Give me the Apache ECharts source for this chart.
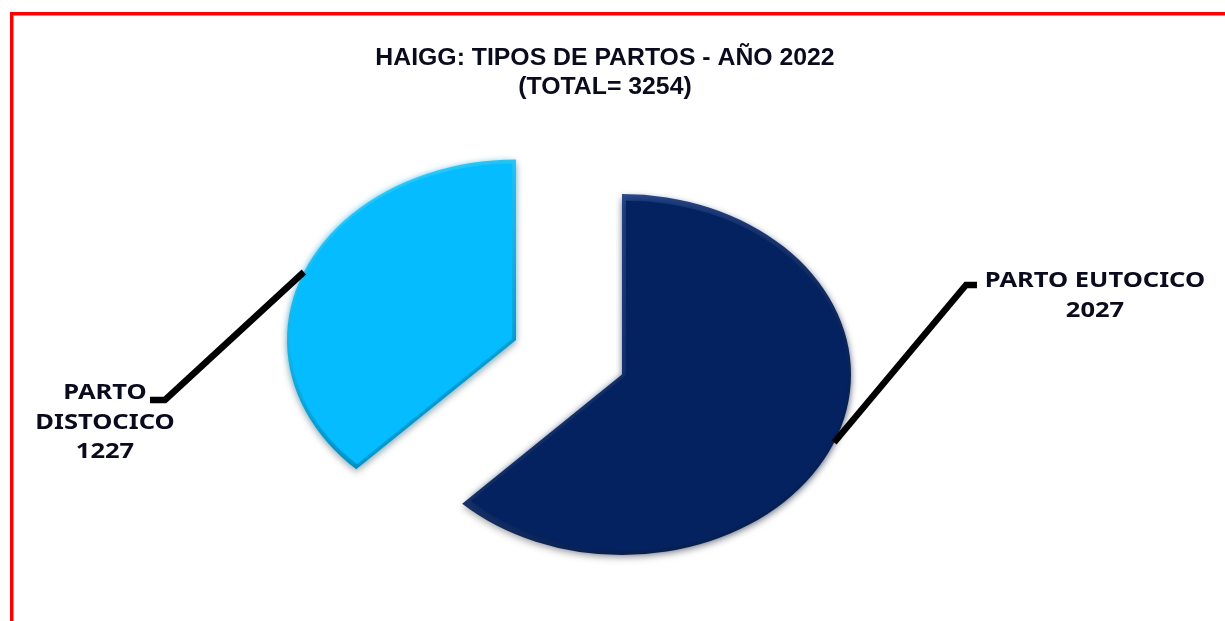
<!DOCTYPE html>
<html>
<head>
<meta charset="utf-8">
<style>
html, body { margin: 0; padding: 0; background: #fff; }
#chart { width: 1225px; height: 621px; }
</style>
<script src="https://cdn.jsdelivr.net/npm/echarts@6/dist/echarts.min.js"></script>
</head>
<body>
<div id="chart"></div>
<script>
const titleLines = ['HAIGG: TIPOS DE PARTOS - AÑO 2022', '(TOTAL= 3254)'];
const categories = ['PARTO EUTOCICO', 'PARTO\nDISTOCICO'];
const values = [2027, 1227];

const total = values.reduce((a, b) => a + b, 0);
const rx = 229, ry = 180.5, bevel = 4;

// tilted pie: every slice has its own exploded centre, leader elbow and label place
const slices = [
    {
        cx: 622, cy: 374.5,
        fill: '#03225F', rim: ['#2F5096', '#0A1D4A'],
        elbow: [[966, 285], [977, 285]],
        label: { x: 1095, y: 266 }
    },
    {
        cx: 516, cy: 340,
        fill: '#04BCFF', rim: ['#3FD8FF', '#0088B8'],
        elbow: [[165, 400], [150, 400]],
        label: { x: 105, y: 378 }
    }
];

function renderSlice(params, api) {
    const i = params.dataIndex;
    const s = slices[i];
    let before = 0;
    for (let k = 0; k < i; k++) before += values[k];
    const start = -Math.PI / 2 + before / total * Math.PI * 2;
    const sweep = api.value(0) / total * Math.PI * 2;
    const mid = start + sweep / 2;
    const shift = bevel / Math.sin(sweep / 2);
    return {
        type: 'group',
        children: [
            {
                type: 'group',
                x: s.cx, y: s.cy,
                scaleY: ry / rx,
                children: [
                    {
                        type: 'sector',
                        shape: { cx: 0, cy: 0, r0: 0, r: rx, startAngle: start, endAngle: start + sweep, clockwise: true },
                        style: {
                            fill: new echarts.graphic.LinearGradient(0, 0, 1, 1, [
                                { offset: 0.1, color: s.rim[0] },
                                { offset: 0.75, color: s.rim[1] }
                            ]),
                            shadowBlur: 7, shadowOffsetY: 3, shadowColor: 'rgba(0,0,0,0.3)'
                        }
                    },
                    {
                        type: 'sector',
                        shape: {
                            cx: Math.cos(mid) * shift, cy: Math.sin(mid) * shift,
                            r0: 0, r: rx - bevel - 3,
                            startAngle: start, endAngle: start + sweep, clockwise: true
                        },
                        style: { fill: s.fill, shadowBlur: 8, shadowColor: s.fill }
                    }
                ]
            },
            {
                type: 'polyline',
                shape: {
                    points: [
                        [s.cx + Math.cos(mid) * rx, s.cy + Math.sin(mid) * ry],
                        s.elbow[0], s.elbow[1]
                    ]
                },
                style: { stroke: '#000', lineWidth: 6.5, fill: null, lineJoin: 'miter' }
            },
            {
                type: 'text',
                x: s.label.x, y: s.label.y,
                scaleX: 1.16,
                style: {
                    text: categories[i] + '\n' + api.value(0),
                    x: 0, y: 0,
                    align: 'center', verticalAlign: 'top',
                    fontFamily: 'Noto Sans', fontWeight: 'bold', fontSize: 22, lineHeight: 29.5,
                    fill: '#0B0B1E'
                }
            }
        ]
    };
}

const myChart = echarts.init(document.getElementById('chart'));
myChart.setOption({
    animation: false,
    backgroundColor: '#fff',
    title: {
        text: titleLines.join('\n'),
        left: 600, top: 39,
        textAlign: 'center',
        textStyle: {
            fontFamily: 'Liberation Sans',
            fontWeight: 'bold',
            fontSize: 24.8,
            lineHeight: 29,
            color: '#0B0B1E'
        }
    },
    graphic: [
        { type: 'rect', silent: true, shape: { x: 10, y: 12, width: 1215, height: 3.5 }, style: { fill: '#FF0000' } },
        { type: 'rect', silent: true, shape: { x: 10, y: 12, width: 3.5, height: 609 }, style: { fill: '#FF0000' } }
    ],
    series: [{
        type: 'custom',
        coordinateSystem: 'none',
        silent: true,
        data: values.map(v => [v]),
        renderItem: renderSlice
    }]
});
</script>
</body>
</html>
